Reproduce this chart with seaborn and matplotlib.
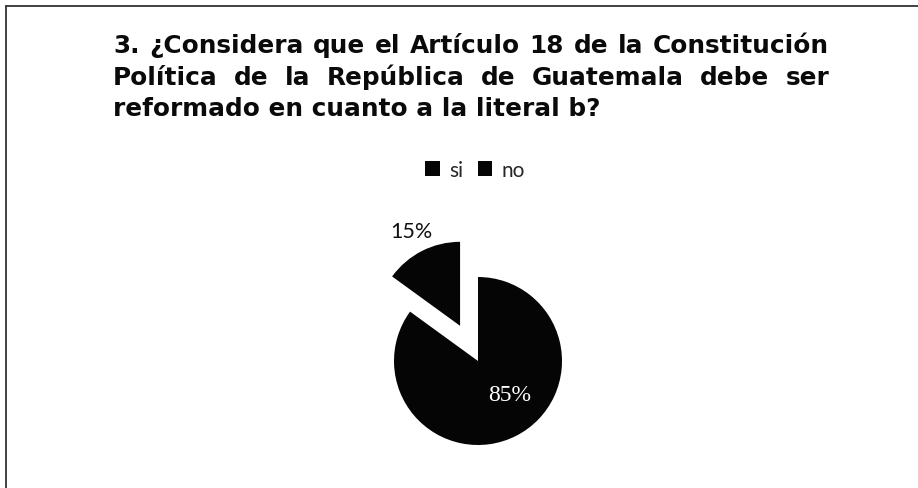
import matplotlib
matplotlib.use("Agg")
import matplotlib.pyplot as plt
import seaborn as sns
import numpy as np
from matplotlib.font_manager import FontProperties
from matplotlib.lines import Line2D

# ---- data ----
categories = ["si", "no"]
values = [85, 15]
explode_amount = [0.0, 0.47]
title_lines = [
    "3. ¿Considera que el Artículo 18 de la Constitución",
    "Política de la República de Guatemala debe ser",
    "reformado en cuanto a la literal b?",
]

sns.set_theme(style="white")
plt.rcParams["font.family"] = ["Lato", "DejaVu Sans"]

W, H = 918, 489
fig = plt.figure(figsize=(W / 100, H / 100), dpi=100)
fig.patch.set_facecolor("white")

colors = sns.color_palette(["#050505", "#050505"])

# pie axes: center (478, 362) px, radius 84 px
cx, cy, R = 478, 362, 84
half = 125
ax = fig.add_axes([(cx - half) / W, (H - cy - half) / H, 2 * half / W, 2 * half / H])
wedges, texts, autotexts = ax.pie(
    values, explode=explode_amount, colors=colors, startangle=90,
    counterclock=False, autopct="%1.0f%%", pctdistance=0.6,
    wedgeprops=dict(linewidth=0),
)
lim = half / R
ax.set_xlim(-lim, lim)
ax.set_ylim(-lim, lim)
ax.set_aspect("equal")
ax.axis("off")

# label placement
for w, t, v in zip(wedges, autotexts, values):
    c = np.array(w.center)
    if v > 50:
        ang = np.deg2rad(-46)
        t.set_position(c + 0.55 * np.array([np.cos(ang), np.sin(ang)]))
        t.set_color("white")
        t.set_fontfamily("Liberation Serif")
        t.set_fontsize(17)
    else:
        ang = np.deg2rad((w.theta1 + w.theta2) / 2)
        t.set_position(c + 1.27 * np.array([np.cos(ang), np.sin(ang)]))
        t.set_color("#111111")
        t.set_fontsize(15.5)
    t.set_ha("center")
    t.set_va("center")

# legend
fig.legend(wedges, categories, loc="center", bbox_to_anchor=(475 / W, 1 - 171 / H),
           ncol=2, frameon=False, handlelength=0.7, handleheight=0.7,
           handletextpad=0.45, columnspacing=0.7, fontsize=15)

# justified title
fp = FontProperties(family="DejaVu Sans", weight="bold", size=17.8)
fig.canvas.draw()
rend = fig.canvas.get_renderer()


def width_px(s):
    t = fig.text(0, 0, s, fontproperties=fp)
    w = t.get_window_extent(rend).width
    t.remove()
    return w


x_left, x_right = 113, 829
baselines = [53, 85, 116.5]
for i, (line, yb) in enumerate(zip(title_lines, baselines)):
    y = 1 - yb / H
    if i < len(title_lines) - 1:
        words = line.split(" ")
        ws = [width_px(wd) for wd in words]
        gap = (x_right - x_left - sum(ws)) / (len(words) - 1)
        x = x_left
        for wd, wpx in zip(words, ws):
            fig.text(x / W, y, wd, fontproperties=fp, ha="left", va="baseline", color="#0a0a0a")
            x += wpx + gap
    else:
        fig.text(x_left / W, y, line, fontproperties=fp, ha="left", va="baseline", color="#0a0a0a")

# border
fig.add_artist(Line2D([6 / W, 1], [1 - 7 / H, 1 - 7 / H], transform=fig.transFigure,
                      color="#333333", lw=1.3))
fig.add_artist(Line2D([6 / W, 6 / W], [0, 1 - 7 / H], transform=fig.transFigure,
                      color="#333333", lw=1.3))

fig.savefig("out.png", dpi=100, facecolor="white")
